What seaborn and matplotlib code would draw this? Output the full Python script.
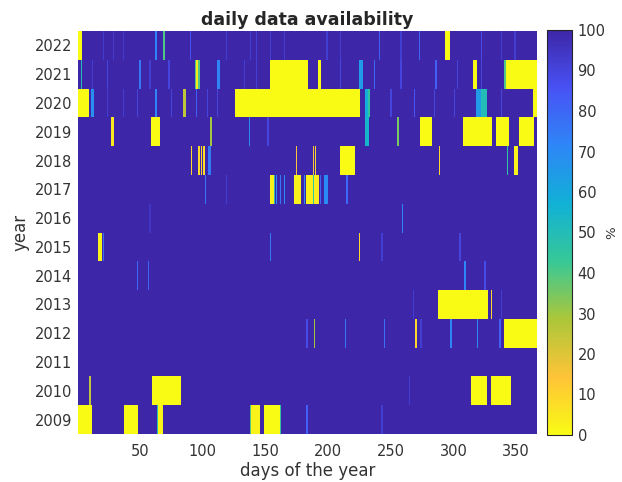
import numpy as np
import pandas as pd
import seaborn as sns
import matplotlib
matplotlib.use("Agg")
import matplotlib.pyplot as plt
from matplotlib.colors import LinearSegmentedColormap

# ---------------- data ----------------
years = list(range(2009, 2023))
days = list(range(1, 367))
full_value = 100          # background: complete days
x_ticks = [50, 100, 150, 200, 250, 300, 350]
cbar_ticks = list(range(0, 101, 10))

# (first_day, last_day, percent available)
gaps_2009 = [(1, 11, 0), (38, 48, 0), (64, 64, 50), (65, 68, 2), (138, 138, 40),
             (139, 145, 2), (149, 161, 0), (162, 162, 45), (183, 183, 82), (243, 243, 92)]
gaps_2010 = [(10, 10, 25), (60, 82, 0), (265, 265, 92), (314, 326, 0), (330, 345, 0)]
gaps_2011 = []
gaps_2012 = [(183, 183, 88), (189, 189, 30), (214, 214, 75), (245, 245, 78),
             (270, 270, 10), (274, 274, 92), (298, 298, 72), (319, 319, 70),
             (337, 337, 82), (341, 366, 0)]
gaps_2013 = [(268, 268, 92), (288, 327, 0), (330, 330, 10), (338, 338, 92)]
gaps_2014 = [(48, 48, 80), (57, 57, 80), (309, 309, 72), (325, 325, 88)]
gaps_2015 = [(17, 19, 2), (21, 21, 78), (154, 154, 75), (225, 225, 10),
             (243, 243, 92), (305, 305, 90)]
gaps_2016 = [(58, 58, 95), (259, 259, 72)]
gaps_2017 = [(102, 102, 75), (119, 119, 92), (154, 156, 3), (157, 157, 50),
             (159, 159, 70), (162, 162, 75), (165, 165, 70), (173, 178, 3),
             (181, 181, 70), (183, 187, 3), (188, 188, 45), (189, 192, 4),
             (194, 194, 80), (197, 199, 70), (215, 215, 80)]
gaps_2018 = [(91, 91, 10), (97, 97, 8), (99, 99, 10), (101, 101, 8), (105, 106, 75),
             (175, 175, 15), (188, 188, 15), (190, 190, 10), (210, 221, 0),
             (289, 289, 10), (343, 343, 45), (349, 351, 2)]
gaps_2019 = [(27, 29, 5), (59, 65, 0), (106, 107, 30), (137, 137, 70), (152, 152, 90),
             (230, 232, 55), (255, 256, 35), (274, 282, 0), (308, 330, 0),
             (334, 344, 0), (353, 364, 0)]
gaps_2020 = [(1, 9, 0), (11, 13, 68), (24, 24, 92), (37, 37, 92), (48, 48, 90),
             (62, 63, 72), (75, 75, 90), (85, 86, 25), (95, 95, 82), (104, 104, 90),
             (112, 112, 90), (126, 225, 0), (230, 231, 58), (232, 233, 45),
             (250, 250, 90), (269, 269, 85), (285, 285, 90), (301, 301, 90),
             (318, 321, 65), (322, 326, 50), (338, 338, 90), (364, 366, 0)]
gaps_2021 = [(3, 3, 50), (12, 12, 92), (24, 24, 90), (50, 50, 75), (58, 58, 92),
             (73, 73, 90), (94, 94, 40), (95, 96, 5), (97, 97, 40), (112, 113, 72),
             (133, 133, 92), (143, 143, 92), (154, 183, 0), (192, 194, 0),
             (210, 210, 90), (225, 227, 65), (237, 237, 80), (258, 258, 90),
             (286, 286, 82), (303, 303, 90), (316, 318, 0), (322, 322, 90),
             (341, 341, 40), (342, 366, 0)]
gaps_2022 = [(1, 3, 0), (21, 21, 93), (29, 29, 93), (37, 37, 93), (62, 63, 72),
             (69, 69, 40), (90, 90, 86), (119, 119, 92), (138, 138, 92),
             (143, 143, 92), (154, 154, 92), (165, 165, 92), (199, 199, 92),
             (210, 210, 92), (241, 241, 82), (258, 258, 92), (273, 273, 80),
             (294, 297, 0), (322, 322, 88), (338, 338, 92), (349, 349, 92)]

gaps_by_year = {
    2009: gaps_2009, 2010: gaps_2010, 2011: gaps_2011, 2012: gaps_2012,
    2013: gaps_2013, 2014: gaps_2014, 2015: gaps_2015, 2016: gaps_2016,
    2017: gaps_2017, 2018: gaps_2018, 2019: gaps_2019, 2020: gaps_2020,
    2021: gaps_2021, 2022: gaps_2022,
}

rows = years[::-1]
df = pd.DataFrame(float(full_value), index=rows, columns=days)
for yr, segs in gaps_by_year.items():
    for a, b, v in segs:
        df.loc[yr, a:b] = v

# parula (reversed) colormap
parula_pts = [(0.2422, 0.1504, 0.6603), (0.2810, 0.3228, 0.9579),
              (0.1786, 0.5289, 0.9682), (0.0689, 0.6948, 0.8394),
              (0.2161, 0.7843, 0.5923), (0.6720, 0.7793, 0.2227),
              (0.9970, 0.7659, 0.2199), (0.9769, 0.9839, 0.0805)]
parula_r = LinearSegmentedColormap.from_list("parula_r", parula_pts[::-1], N=256)

# ---------------- figure ----------------
sns.set_style("white")
plt.rcParams['font.family'] = ['DejaVu Sans']
txt = '#333333'

fig = plt.figure(figsize=(6.22, 4.82), dpi=100)
ax = fig.add_axes([78 / 622, 1 - 434 / 482, (537 - 78) / 622, (434 - 31) / 482])
cax = fig.add_axes([547 / 622, 1 - 435 / 482, 25 / 622, 405 / 482])

sns.heatmap(df, ax=ax, cbar_ax=cax, cmap=parula_r, vmin=0, vmax=100,
            xticklabels=False, yticklabels=False, linewidths=0,
            cbar_kws={'ticks': cbar_ticks})

ax.set_xticks([d - 0.5 for d in x_ticks])
ax.set_xticklabels([str(d) for d in x_ticks])
ax.set_yticks([i + 0.5 for i in range(len(rows))])
ax.set_yticklabels([str(y) for y in rows], rotation=0)
ax.tick_params(axis='both', length=0, labelsize=10.5, colors=txt)
ax.tick_params(axis='x', pad=7)
ax.tick_params(axis='y', pad=4)
ax.set_xlabel('days of the year', fontsize=12, color=txt, labelpad=2)
ax.set_ylabel('year', fontsize=12, color=txt, labelpad=4)
ax.set_title('daily data availability', fontsize=12.5, fontweight='bold', pad=4)

cb = ax.collections[0].colorbar
cb.outline.set_linewidth(0.8)
cb.outline.set_edgecolor('#262626')
cax.tick_params(direction='in', length=3, width=0.6, labelsize=10.5,
                colors=txt, pad=4)
cax.set_ylabel('%', fontsize=9.5, color=txt, labelpad=0)

fig.savefig('out.png', dpi=100)
